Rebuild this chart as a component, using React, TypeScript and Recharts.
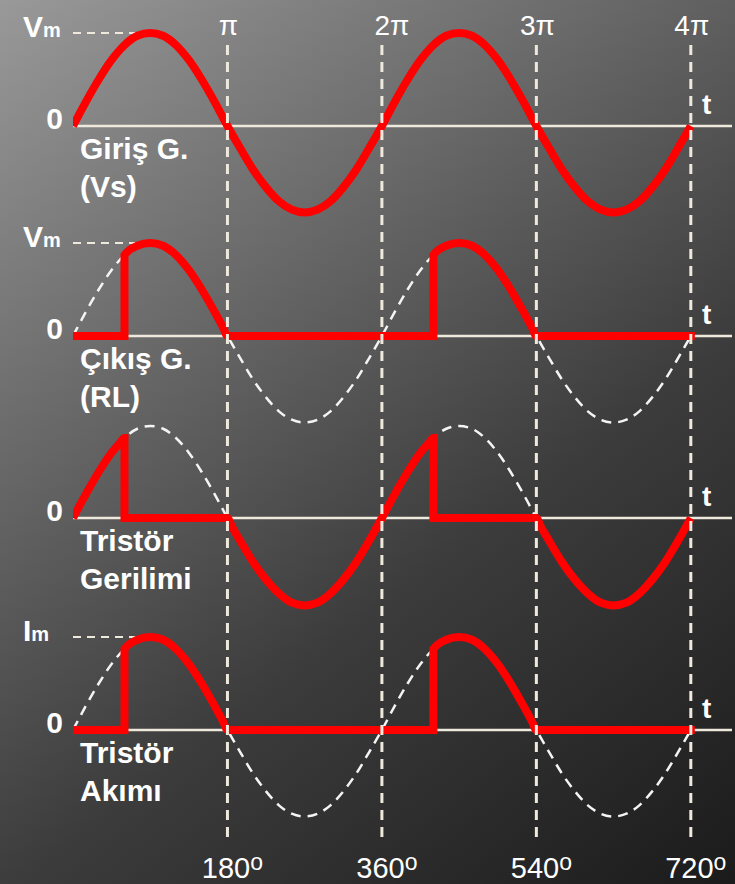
import React from "react";
import { ComposedChart, Line, XAxis, YAxis, ReferenceLine } from "recharts";

// angle in degrees, sampled every 15°
const DEG = [
  0, 15, 30, 45, 60, 75, 90, 105, 120, 135, 150, 165, 180, 195, 210, 225, 240, 255, 270, 285, 300, 315, 330, 345, 360,
  375, 390, 405, 420, 435, 450, 465, 480, 495, 510, 525, 540, 555, 570, 585, 600, 615, 630, 645, 660, 675, 690, 705, 720,
];

// supply voltage Vs (Vm = 1); the negative lobe is drawn a bit shallower
const SUPPLY = [
  0, 0.26, 0.5, 0.71, 0.87, 0.97, 1, 0.97, 0.87, 0.71, 0.5, 0.26, 0, -0.24, -0.47, -0.66, -0.81, -0.9, -0.93, -0.9, -0.81, -0.66, -0.47, -0.24, 0,
  0.26, 0.5, 0.71, 0.87, 0.97, 1, 0.97, 0.87, 0.71, 0.5, 0.26, 0, -0.24, -0.47, -0.66, -0.81, -0.9, -0.93, -0.9, -0.81, -0.66, -0.47, -0.24, 0,
];

// load voltage / thyristor current: fires at ~60°, conducts to 180°
const OUTPUT: [number, number][] = [
  [0, 0], [60, 0], [60, 0.87], [75, 0.97], [90, 1], [105, 0.97], [120, 0.87], [135, 0.71], [150, 0.5], [165, 0.26], [175, 0.09], [180, 0],
  [420, 0], [420, 0.87], [435, 0.97], [450, 1], [465, 0.97], [480, 0.87], [495, 0.71], [510, 0.5], [525, 0.26], [535, 0.09], [540, 0],
  [720, 0],
];

// voltage across the thyristor
const THYRISTOR_V: [number, number][] = [
  [0, 0], [15, 0.26], [30, 0.5], [45, 0.71], [55, 0.82], [60, 0.87], [60, 0], [180, 0],
  [185, -0.09], [195, -0.25], [210, -0.48], [225, -0.67], [240, -0.82], [255, -0.92], [270, -0.95], [285, -0.92], [300, -0.82],
  [315, -0.67], [330, -0.48], [345, -0.25], [360, 0], [375, 0.26], [390, 0.5], [405, 0.71], [415, 0.82], [420, 0.87], [420, 0],
  [540, 0], [545, -0.09], [555, -0.25], [570, -0.48], [585, -0.67], [600, -0.82], [615, -0.92], [630, -0.95], [645, -0.92],
  [660, -0.82], [675, -0.67], [690, -0.48], [705, -0.25], [720, 0],
];

const PI_TICKS = [180, 360, 540, 720];
const PI_LABELS = ["π", "2π", "3π", "4π"];
const DEG_LABELS = ["180", "360", "540", "720"];
const TITLES = [
  ["Giriş G.", "(Vs)"],
  ["Çıkış G.", "(RL)"],
  ["Tristör", "Gerilimi"],
  ["Tristör", "Akımı"],
];
const PEAK_LABELS = [["V", "m"], ["V", "m"], null, ["I", "m"]];

const supplyRows = DEG.map((deg, i) => ({ deg, v: SUPPLY[i] }));
const toRows = (pts: [number, number][]) => pts.map(([deg, v]) => ({ deg, v }));

const W = 735;
const H = 884;
const TOP = 6; // vertical axis runs from here...
const BOTTOM = 865; // ...to here
const LEFT = 73;
const RIGHT = 732;
const GUIDE_TOP = 45;
const GUIDE_BOTTOM = 840;

const RED = "#ff0000";
const CREAM = "#eee9dc";
const FONT = "'Liberation Sans', Arial, sans-serif";

// each trace gets its own hidden y axis: zero sits at `zero` px, 1 unit = `amp` px
const PANELS = [
  { id: "p1", zero: 126, amp: 93 },
  { id: "p2", zero: 336, amp: 93 },
  { id: "p3", zero: 518, amp: 92 },
  { id: "p4", zero: 730, amp: 93 },
];
const band = (zero: number, amp: number) => [-(BOTTOM - zero) / amp, (zero - TOP) / amp];

const PiTick = (props: any) => {
  const i = PI_TICKS.indexOf(props.payload.value);
  const nudge = i === 1 ? 10 : 1;
  return (
    <text x={props.x + nudge} y={35} textAnchor="middle" fill="#fff" fontFamily={FONT} fontSize={28}>
      {PI_LABELS[i]}
    </text>
  );
};

const DegTick = (props: any) => {
  const i = PI_TICKS.indexOf(props.payload.value);
  return (
    <text x={props.x + 5} y={878} textAnchor="middle" fill="#fff" fontFamily={FONT} fontSize={29}>
      {DEG_LABELS[i]}
      <tspan fontSize={23} dy={-8}>o</tspan>
    </text>
  );
};

export default function App() {
  return (
    <div
      style={{
        position: "absolute",
        left: 0,
        top: 0,
        width: W,
        height: H,
        background: "linear-gradient(143deg, #999999 0%, #606060 38%, #3c3c3c 62%, #1b1b1b 100%)",
      }}
    >
      <ComposedChart width={W} height={H} margin={{ top: 0, right: W - RIGHT, bottom: 0, left: LEFT }}>
        <XAxis
          dataKey="deg"
          type="number"
          domain={[0, 768]}
          allowDataOverflow
          ticks={PI_TICKS}
          orientation="bottom"
          height={H - BOTTOM}
          axisLine={false}
          tickLine={false}
          tick={<DegTick />}
        />
        <XAxis
          xAxisId="pi"
          dataKey="deg"
          type="number"
          domain={[0, 768]}
          allowDataOverflow
          ticks={PI_TICKS}
          orientation="top"
          height={TOP}
          axisLine={false}
          tickLine={false}
          tick={<PiTick />}
        />
        <YAxis
          yAxisId="frame"
          type="number"
          reversed
          domain={[TOP, BOTTOM]}
          allowDataOverflow
          width={0}
          tick={false}
          tickLine={false}
          axisLine={{ stroke: CREAM, strokeWidth: 3 }}
        />
        {PANELS.map((p) => (
          <YAxis key={p.id} yAxisId={p.id} type="number" domain={band(p.zero, p.amp)} allowDataOverflow hide />
        ))}

        {PANELS.map((p) => (
          <ReferenceLine key={"z" + p.id} yAxisId={p.id} y={0} stroke={CREAM} strokeWidth={2.5} />
        ))}
        {PANELS.filter((_, i) => PEAK_LABELS[i]).map((p) => (
          <ReferenceLine
            key={"m" + p.id}
            yAxisId={p.id}
            segment={[{ x: 0, y: 1 }, { x: 97, y: 1 }]}
            stroke={CREAM}
            strokeWidth={2}
            strokeDasharray="8 6"
          />
        ))}

        {["p2", "p3", "p4"].map((id) => (
          <Line
            key={"s" + id}
            yAxisId={id}
            data={supplyRows}
            dataKey="v"
            type="monotone"
            stroke="#f4f4f4"
            strokeWidth={2.5}
            strokeDasharray="10 7"
            dot={false}
            activeDot={false}
            isAnimationActive={false}
          />
        ))}

        <Line yAxisId="p1" data={supplyRows} dataKey="v" type="monotone" stroke={RED} strokeWidth={8} dot={false} activeDot={false} isAnimationActive={false} />
        <Line yAxisId="p2" data={toRows(OUTPUT)} dataKey="v" type="monotone" stroke={RED} strokeWidth={8} strokeLinecap="square" dot={false} activeDot={false} isAnimationActive={false} />
        <Line yAxisId="p3" data={toRows(THYRISTOR_V)} dataKey="v" type="monotone" stroke={RED} strokeWidth={8} dot={false} activeDot={false} isAnimationActive={false} />
        <Line yAxisId="p4" data={toRows(OUTPUT)} dataKey="v" type="monotone" stroke={RED} strokeWidth={8} strokeLinecap="square" dot={false} activeDot={false} isAnimationActive={false} />

        {PI_TICKS.map((x) => (
          <ReferenceLine
            key={"g" + x}
            yAxisId="frame"
            segment={[{ x, y: GUIDE_TOP }, { x, y: GUIDE_BOTTOM }]}
            stroke={CREAM}
            strokeWidth={3}
            strokeDasharray="10 7"
          />
        ))}

        <g fontFamily={FONT} fontWeight="bold" fill="#fff">
          {PANELS.map((p, i) => {
            const peak = PEAK_LABELS[i];
            return (
              <g key={"l" + p.id}>
                {peak && (
                  <text x={23} y={p.zero - p.amp + 4} fontSize={30}>
                    {peak[0]}
                    <tspan fontSize={20}>{peak[1]}</tspan>
                  </text>
                )}
                <text x={63} y={p.zero + 3} fontSize={30} textAnchor="end">0</text>
                <text x={702} y={p.zero - 12} fontSize={28}>t</text>
                <text x={80} y={p.zero + 33} fontSize={30}>{TITLES[i][0]}</text>
                <text x={80} y={p.zero + 71} fontSize={30}>{TITLES[i][1]}</text>
              </g>
            );
          })}
        </g>
      </ComposedChart>
    </div>
  );
}
